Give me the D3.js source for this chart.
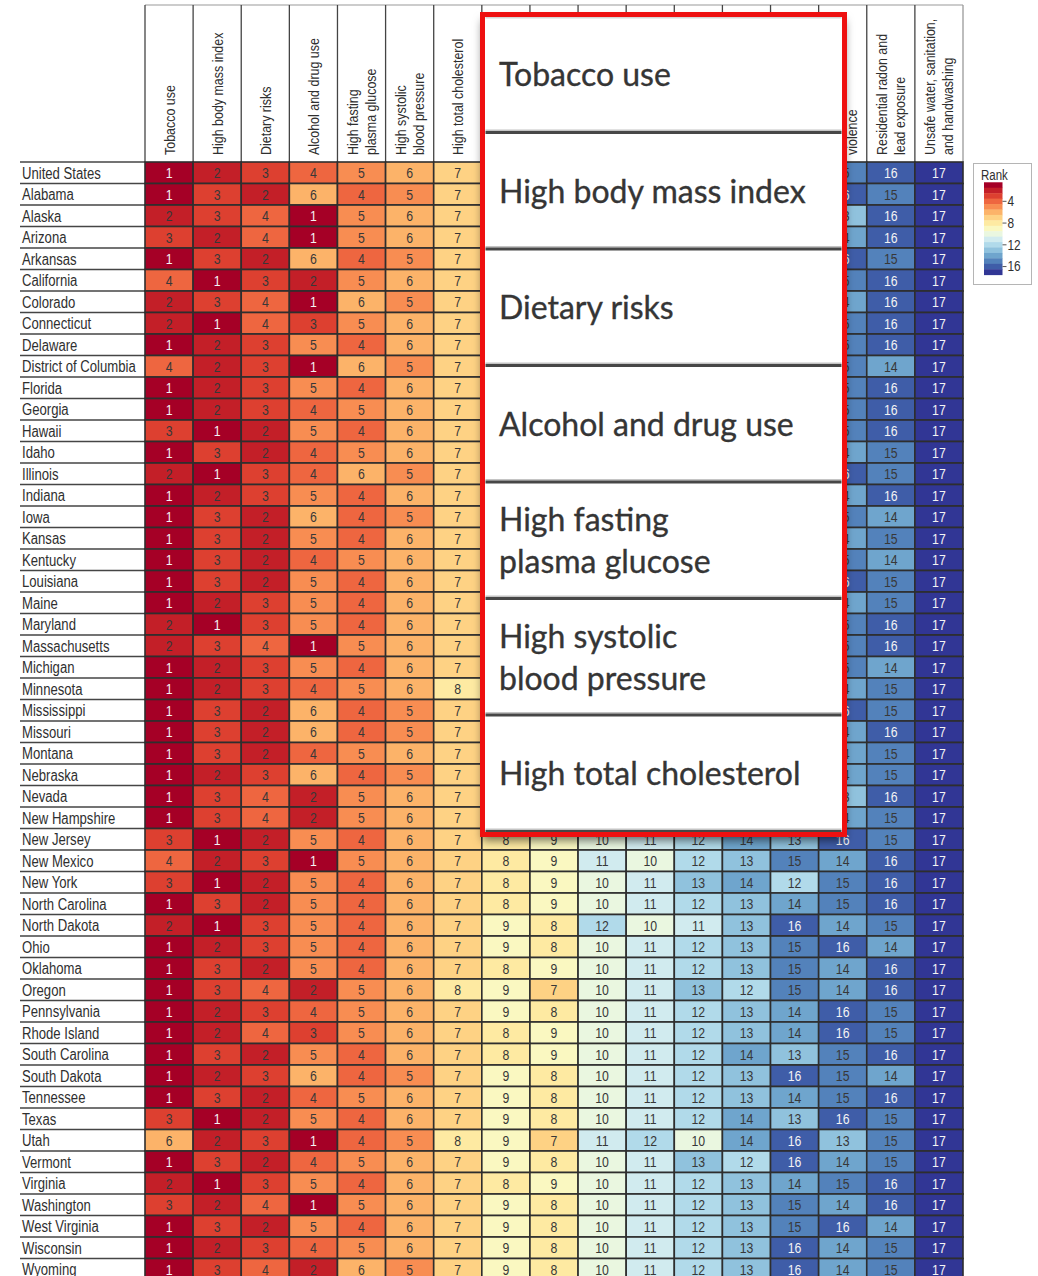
<!DOCTYPE html>
<html>
<head>
<meta charset="utf-8">
<script src="https://cdn.jsdelivr.net/npm/d3@7"></script>
<style>
  html, body { margin: 0; padding: 0; background: #fff; }
  svg { display: block; }
</style>
</head>
<body>
<script>
// Risk factors, ordered by national rank; each entry lists its header lines
const factors = [
  ["Tobacco use"],
  ["High body mass index"],
  ["Dietary risks"],
  ["Alcohol and drug use"],
  ["High fasting", "plasma glucose"],
  ["High systolic", "blood pressure"],
  ["High total cholesterol"],
  ["Impaired kidney", "function"],
  ["Low physical", "activity"],
  ["Occupational risks"],
  ["Low bone mineral", "density"],
  ["Unsafe sex"],
  ["Child and maternal", "malnutrition"],
  ["Air pollution"],
  ["Sexual abuse and", "violence"],
  ["Residential radon and", "lead exposure"],
  ["Unsafe water, sanitation,", "and handwashing"]
];

const states = [
  "United States", "Alabama", "Alaska", "Arizona", "Arkansas", "California",
  "Colorado", "Connecticut", "Delaware", "District of Columbia", "Florida",
  "Georgia", "Hawaii", "Idaho", "Illinois", "Indiana", "Iowa", "Kansas",
  "Kentucky", "Louisiana", "Maine", "Maryland", "Massachusetts", "Michigan",
  "Minnesota", "Mississippi", "Missouri", "Montana", "Nebraska", "Nevada",
  "New Hampshire", "New Jersey", "New Mexico", "New York", "North Carolina",
  "North Dakota", "Ohio", "Oklahoma", "Oregon", "Pennsylvania", "Rhode Island",
  "South Carolina", "South Dakota", "Tennessee", "Texas", "Utah", "Vermont",
  "Virginia", "Washington", "West Virginia", "Wisconsin", "Wyoming"
];

// Rank of each risk factor (columns follow `factors`) for each row of `states`
const ranks = [
  [1,2,3,4,5,6,7,8,9,10,11,12,13,14,15,16,17],
  [1,3,2,6,4,5,7,8,9,10,11,12,13,14,16,15,17],
  [2,3,4,1,5,6,7,8,9,10,11,12,14,15,13,16,17],
  [3,2,4,1,5,6,7,8,9,10,11,12,13,15,14,16,17],
  [1,3,2,6,4,5,7,8,9,10,11,12,13,14,16,15,17],
  [4,1,3,2,5,6,7,8,9,10,11,12,13,14,15,16,17],
  [2,3,4,1,6,5,7,8,9,10,11,12,13,15,14,16,17],
  [2,1,4,3,5,6,7,8,9,10,11,12,13,14,15,16,17],
  [1,2,3,5,4,6,7,8,9,10,11,12,13,14,15,16,17],
  [4,2,3,1,6,5,7,8,9,10,11,12,13,16,15,14,17],
  [1,2,3,5,4,6,7,8,9,10,11,12,13,14,15,16,17],
  [1,2,3,4,5,6,7,8,9,10,11,12,13,14,15,16,17],
  [3,1,2,5,4,6,7,8,9,10,11,12,13,14,15,16,17],
  [1,3,2,4,5,6,7,9,8,10,11,12,13,16,14,15,17],
  [2,1,3,4,6,5,7,8,9,10,11,12,13,14,16,15,17],
  [1,2,3,5,4,6,7,8,9,10,11,12,13,15,14,16,17],
  [1,3,2,6,4,5,7,9,8,10,11,12,13,16,15,14,17],
  [1,3,2,5,4,6,7,9,8,10,11,12,13,16,14,15,17],
  [1,3,2,4,5,6,7,8,9,10,11,12,13,16,15,14,17],
  [1,3,2,5,4,6,7,8,9,10,11,12,13,14,16,15,17],
  [1,2,3,5,4,6,7,9,8,10,11,12,13,16,14,15,17],
  [2,1,3,5,4,6,7,8,9,10,11,12,13,14,15,16,17],
  [2,3,4,1,5,6,7,8,9,10,11,12,13,14,15,16,17],
  [1,2,3,5,4,6,7,9,8,10,11,12,13,16,15,14,17],
  [1,2,3,4,5,6,8,9,7,10,11,12,13,16,14,15,17],
  [1,3,2,6,4,5,7,8,9,10,11,12,13,14,16,15,17],
  [1,3,2,6,4,5,7,8,9,10,11,12,13,15,14,16,17],
  [1,3,2,4,5,6,7,9,8,10,11,12,13,16,14,15,17],
  [1,2,3,6,4,5,7,9,8,10,11,12,13,16,14,15,17],
  [1,3,4,2,5,6,7,8,9,10,11,12,14,15,13,16,17],
  [1,3,4,2,5,6,7,9,8,10,11,12,13,16,14,15,17],
  [3,1,2,5,4,6,7,8,9,10,11,12,14,13,16,15,17],
  [4,2,3,1,5,6,7,8,9,11,10,12,13,15,14,16,17],
  [3,1,2,5,4,6,7,8,9,10,11,13,14,12,15,16,17],
  [1,3,2,5,4,6,7,8,9,10,11,12,13,14,15,16,17],
  [2,1,3,5,4,6,7,9,8,12,10,11,13,16,14,15,17],
  [1,2,3,5,4,6,7,9,8,10,11,12,13,15,16,14,17],
  [1,3,2,5,4,6,7,8,9,10,11,12,13,15,14,16,17],
  [1,3,4,2,5,6,8,9,7,10,11,13,12,15,14,16,17],
  [1,2,3,4,5,6,7,9,8,10,11,12,13,14,16,15,17],
  [1,2,4,3,5,6,7,8,9,10,11,12,13,14,16,15,17],
  [1,3,2,5,4,6,7,8,9,10,11,12,14,13,15,16,17],
  [1,2,3,6,4,5,7,9,8,10,11,12,13,16,15,14,17],
  [1,3,2,4,5,6,7,9,8,10,11,12,13,14,15,16,17],
  [3,1,2,5,4,6,7,9,8,10,11,12,14,13,16,15,17],
  [6,2,3,1,4,5,8,9,7,11,12,10,14,16,13,15,17],
  [1,3,2,4,5,6,7,9,8,10,11,13,12,16,14,15,17],
  [2,1,3,5,4,6,7,8,9,10,11,12,13,14,15,16,17],
  [3,2,4,1,5,6,7,9,8,10,11,12,13,15,14,16,17],
  [1,3,2,5,4,6,7,9,8,10,11,12,13,15,16,14,17],
  [1,2,3,4,5,6,7,9,8,10,11,12,13,16,14,15,17],
  [1,3,4,2,6,5,7,9,8,10,11,12,13,16,14,15,17]
];

const rankDomain = [1, 17];
const legendTicks = [4, 8, 12, 16];
const legendTitle = "Rank";

// Enlarged names of the leading risk factors shown in the callout panel
const calloutLabels = [
  ["Tobacco use"],
  ["High body mass index"],
  ["Dietary risks"],
  ["Alcohol and drug use"],
  ["High fasting", "plasma glucose"],
  ["High systolic", "blood pressure"],
  ["High total cholesterol"]
];

// ---------------------------------------------------------------------------
const W = 1038, H = 1276;
const FONT = "'Liberation Sans', Arial, sans-serif";
const NARROW = 0.82;           // horizontal squeeze giving a condensed face
const INK = "#2f2f2f";
const GRID = "#2e2e2e";

const svg = d3.select("body").append("svg")
  .attr("width", W).attr("height", H)
  .attr("viewBox", `0 0 ${W} ${H}`);

const defs = svg.append("defs");
const shadow = defs.append("filter").attr("id", "callout-shadow")
  .attr("x", "-10%").attr("y", "-5%").attr("width", "120%").attr("height", "115%");
shadow.append("feDropShadow")
  .attr("dx", 0).attr("dy", 6).attr("stdDeviation", 5)
  .attr("flood-color", "#000").attr("flood-opacity", 0.55);

const x = d3.scaleBand().domain(d3.range(factors.length)).range([145, 963]);
const y = d3.scaleBand().domain(states).range([162, 1280]);
// rank 1 = deep red, rank 17 = deep blue
const color = d3.scaleSequential(d3.interpolateRdYlBu).domain(rankDomain);

const headTop = 5;
const headBottom = y.range()[0];

// condensed text placed at (px, py)
function narrowText(sel, px, py) {
  return sel.attr("transform", (d, i) => `translate(${px(d, i)},${py(d, i)}) scale(${NARROW},1)`);
}

// ---- column headers ------------------------------------------------------
const head = svg.append("g");
head.append("line")
  .attr("x1", x.range()[0]).attr("x2", x.range()[1])
  .attr("y1", headTop).attr("y2", headTop)
  .attr("stroke", "#9a9a9a").attr("stroke-width", 1.2);

const colEdges = d3.range(factors.length + 1).map(i => x.range()[0] + i * x.step());
head.selectAll("line.col")
  .data(colEdges)
  .join("line").attr("class", "col")
  .attr("x1", d => d).attr("x2", d => d)
  .attr("y1", headTop).attr("y2", headBottom)
  .attr("stroke", (d, i) => i === colEdges.length - 1 ? "#9a9a9a" : "#444")
  .attr("stroke-width", 1.3);

const lineGap = 18;
head.selectAll("g.hlabel")
  .data(factors)
  .join("g").attr("class", "hlabel")
  .attr("transform", (d, i) => `translate(${x(i) + x.bandwidth() / 2},${headBottom - 7}) rotate(-90)`)
  .each(function(lines) {
    d3.select(this).selectAll("text")
      .data(lines)
      .join("text")
      .attr("transform", (l, j) => `translate(0,${(j - (lines.length - 1) / 2) * lineGap}) scale(${NARROW},1)`)
      .attr("dominant-baseline", "central")
      .attr("font-family", FONT)
      .attr("font-size", 15.2)
      .attr("fill", INK)
      .text(l => l);
  });

// ---- row labels ----------------------------------------------------------
const rowsG = svg.append("g");
const rowEdges = [y.range()[0]].concat(states.map(s => y(s) + y.bandwidth()));
rowsG.selectAll("line.row")
  .data(rowEdges)
  .join("line").attr("class", "row")
  .attr("x1", 20).attr("x2", x.range()[0])
  .attr("y1", d => d).attr("y2", d => d)
  .attr("stroke", "#454545").attr("stroke-width", 1.7);

narrowText(
  rowsG.selectAll("text").data(states).join("text"),
  () => 22,
  d => y(d) + y.bandwidth() / 2 + 0.5)
  .attr("dominant-baseline", "central")
  .attr("font-family", FONT)
  .attr("font-size", 16)
  .attr("fill", INK)
  .text(d => d);

// ---- heatmap cells -------------------------------------------------------
const cells = [];
states.forEach((s, r) => ranks[r].forEach((v, c) => cells.push({ s, c, v })));

const cellG = svg.append("g");
cellG.selectAll("rect")
  .data(cells)
  .join("rect")
  .attr("x", d => x(d.c))
  .attr("y", d => y(d.s))
  .attr("width", x.bandwidth())
  .attr("height", y.bandwidth())
  .attr("fill", d => color(d.v))
  .attr("stroke", GRID)
  .attr("stroke-width", 1.6);

narrowText(
  cellG.selectAll("text").data(cells).join("text"),
  d => x(d.c) + x.bandwidth() / 2,
  d => y(d.s) + y.bandwidth() / 2 + 0.5)
  .attr("text-anchor", "middle")
  .attr("dominant-baseline", "central")
  .attr("font-family", FONT)
  .attr("font-size", 15)
  .attr("fill", d => (d.v <= 1 || d.v >= 16) ? "#f4f4f4" : "#383838")
  .text(d => d.v);

// ---- legend --------------------------------------------------------------
const lg = svg.append("g");
lg.append("rect")
  .attr("x", 973.5).attr("y", 163.5).attr("width", 58).attr("height", 121)
  .attr("fill", "#fff").attr("stroke", "#b5b5b5").attr("stroke-width", 1);
narrowText(lg.append("text").datum(legendTitle), () => 981, () => 180)
  .attr("font-family", FONT).attr("font-size", 14).attr("fill", INK)
  .text(d => d);

const ly = d3.scaleLinear().domain(rankDomain).range([185, 272]);
const unit = ly(2) - ly(1);
lg.selectAll("rect.band")
  .data(d3.range(rankDomain[0], rankDomain[1] + 1))
  .join("rect").attr("class", "band")
  .attr("x", 984).attr("width", 18.5)
  .attr("y", d => ly(d) - unit / 2)
  .attr("height", unit + 0.4)
  .attr("fill", d => color(d));

const lgAxis = lg.append("g");
lgAxis.selectAll("line")
  .data(legendTicks)
  .join("line")
  .attr("x1", 1002.5).attr("x2", 1006.5)
  .attr("y1", d => ly(d)).attr("y2", d => ly(d))
  .attr("stroke", "#555").attr("stroke-width", 1);
narrowText(lgAxis.selectAll("text").data(legendTicks).join("text"),
  () => 1007.5, d => ly(d))
  .attr("dominant-baseline", "central")
  .attr("font-family", FONT).attr("font-size", 14.5).attr("fill", INK)
  .text(d => d);

// ---- callout panel listing the leading risk factors -----------------------
const box = { x: 482.5, y: 14.5, w: 362, h: 820 };
const call = svg.append("g");
call.append("rect")
  .attr("x", box.x).attr("y", box.y).attr("width", box.w).attr("height", box.h)
  .attr("fill", "#fff")
  .attr("filter", "url(#callout-shadow)");

const py = d3.scaleBand().domain(d3.range(calloutLabels.length)).range([17, 832.5]);
const inner = { x0: box.x + 3, x1: box.x + box.w - 3 };

call.append("rect")
  .attr("x", inner.x0).attr("y", 17).attr("width", inner.x1 - inner.x0).attr("height", 1.5)
  .attr("fill", "#d6d6d6");

const panels = call.selectAll("g.panel")
  .data(calloutLabels)
  .join("g").attr("class", "panel");

panels.append("rect")
  .attr("x", inner.x0).attr("width", inner.x1 - inner.x0)
  .attr("y", (d, i) => py(i) + py.step() - 4)
  .attr("height", 1.6)
  .attr("fill", "#c4c4c4");
panels.append("rect")
  .attr("x", inner.x0).attr("width", inner.x1 - inner.x0)
  .attr("y", (d, i) => py(i) + py.step() - 2.5)
  .attr("height", 3)
  .attr("fill", "#474747");

const bigGap = 42;
panels.each(function(lines, i) {
  const cy = py(i) + py.step() / 2 - 1.5;
  d3.select(this).selectAll("text")
    .data(lines)
    .join("text")
    .attr("x", 499)
    .attr("y", (l, j) => cy + (j - (lines.length - 1) / 2) * bigGap)
    .attr("dominant-baseline", "central")
    .attr("font-family", "Lato, 'Open Sans', sans-serif")
    .attr("font-size", 32)
    .attr("fill", "#353535")
    .attr("stroke", "#353535").attr("stroke-width", 0.35)
    .text(l => l);
});

call.append("rect")
  .attr("x", box.x).attr("y", box.y).attr("width", box.w).attr("height", box.h)
  .attr("fill", "none")
  .attr("stroke", "#ee1010").attr("stroke-width", 5);
</script>
</body>
</html>
